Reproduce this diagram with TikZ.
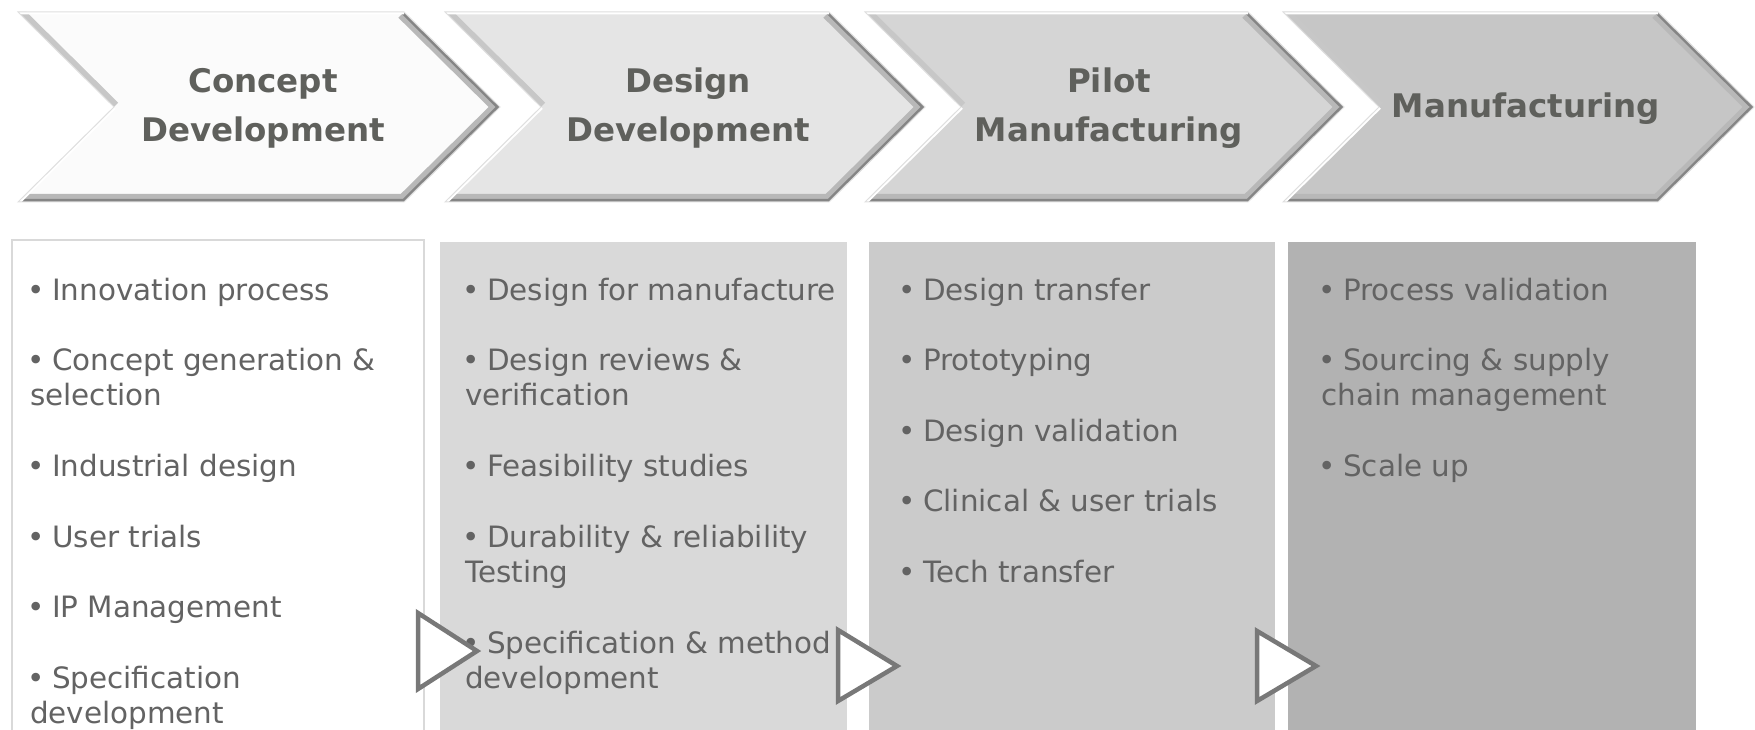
\documentclass[tikz,border=0pt]{standalone}
\usepackage{fontspec}
\setmainfont{DejaVu Sans}
\definecolor{headtext}{HTML}{5F605C}
\definecolor{bodytext}{HTML}{636363}
\definecolor{chevA}{HTML}{FBFBFB}
\definecolor{chevB}{HTML}{E5E5E5}
\definecolor{chevC}{HTML}{D5D5D5}
\definecolor{chevD}{HTML}{C6C6C6}
\definecolor{colA}{HTML}{FFFFFF}
\definecolor{colB}{HTML}{D9D9D9}
\definecolor{colC}{HTML}{CBCBCB}
\definecolor{colD}{HTML}{B2B2B2}
\newcommand\itm{\makebox[22pt][l]{\hspace{-3pt}•}}
\begin{document}
\begin{tikzpicture}[x=1pt,y=-1pt,
    chev/.style={draw=gray!25,line width=1pt,line join=miter},
    band/.style={black!28,line width=16pt,line join=miter},
    edge/.style={black!48,line width=6pt,line join=miter},
    shade/.style={black!22,line width=12pt},
    light/.style={white,line width=5pt},
    head/.style={inner sep=0pt,anchor=base,text=headtext,
      font=\fontsize{32.5}{49}\selectfont\bfseries},
    list/.style={inner sep=0pt,anchor=base west,text=bodytext,
      font=\fontsize{29.4}{35.3}\selectfont},
    tri/.style={draw=black!53,fill=white,line width=4.5pt,line join=miter}]
  \useasboundingbox (0,0) rectangle (1755,730);

  % phase chevrons
  \fill[chevA] (18,12) -- (404,12) -- (500,107) -- (404,202) -- (18,202) -- (114,107) -- cycle;
  \begin{scope}
    \clip (18,12) -- (404,12) -- (500,107) -- (404,202) -- (18,202) -- (114,107) -- cycle;
    \draw[band] (404,12) -- (500,107) -- (404,202) -- (18,202);
    \draw[edge] (404,12) -- (500,107) -- (404,202) -- (18,202);
    \draw[shade] (18,12) -- (114,107);
    \draw[light] (18,202) -- (114,107) (18,12) -- (404,12);
  \end{scope}
  \draw[chev] (18,12) -- (404,12) -- (500,107) -- (404,202) -- (18,202) -- (114,107) -- cycle;

  \fill[chevB] (445,12) -- (829,12) -- (925,107) -- (829,202) -- (445,202) -- (541,107) -- cycle;
  \begin{scope}
    \clip (445,12) -- (829,12) -- (925,107) -- (829,202) -- (445,202) -- (541,107) -- cycle;
    \draw[band] (829,12) -- (925,107) -- (829,202) -- (445,202);
    \draw[edge] (829,12) -- (925,107) -- (829,202) -- (445,202);
    \draw[shade] (445,12) -- (541,107);
    \draw[light] (445,202) -- (541,107) (445,12) -- (829,12);
  \end{scope}
  \draw[chev] (445,12) -- (829,12) -- (925,107) -- (829,202) -- (445,202) -- (541,107) -- cycle;

  \fill[chevC] (865,12) -- (1248,12) -- (1344,107) -- (1248,202) -- (865,202) -- (961,107) -- cycle;
  \begin{scope}
    \clip (865,12) -- (1248,12) -- (1344,107) -- (1248,202) -- (865,202) -- (961,107) -- cycle;
    \draw[band] (1248,12) -- (1344,107) -- (1248,202) -- (865,202);
    \draw[edge] (1248,12) -- (1344,107) -- (1248,202) -- (865,202);
    \draw[shade] (865,12) -- (961,107);
    \draw[light] (865,202) -- (961,107) (865,12) -- (1248,12);
  \end{scope}
  \draw[chev] (865,12) -- (1248,12) -- (1344,107) -- (1248,202) -- (865,202) -- (961,107) -- cycle;

  \fill[chevD] (1283,12) -- (1658,12) -- (1754,107) -- (1658,202) -- (1283,202) -- (1379,107) -- cycle;
  \begin{scope}
    \clip (1283,12) -- (1658,12) -- (1754,107) -- (1658,202) -- (1283,202) -- (1379,107) -- cycle;
    \draw[band] (1658,12) -- (1754,107) -- (1658,202) -- (1283,202);
    \draw[edge] (1658,12) -- (1754,107) -- (1658,202) -- (1283,202);
    \draw[shade] (1283,12) -- (1379,107);
    \draw[light] (1283,202) -- (1379,107) (1283,12) -- (1658,12);
  \end{scope}
  \draw[chev] (1283,12) -- (1658,12) -- (1754,107) -- (1658,202) -- (1283,202) -- (1379,107) -- cycle;

  \node[head] (phase1) at (263,93) {\parbox[t]{300pt}{\centering Concept\\Development}};
  \node[head] (phase2) at (688,93) {\parbox[t]{300pt}{\centering Design\\Development}};
  \node[head] (phase3) at (1109,93) {\parbox[t]{300pt}{\centering Pilot\\Manufacturing}};
  \node[head] (phase4) at (1526,118) {Manufacturing};

  % activity columns
  \fill[colA,draw=colB,line width=2pt] (12,240) rectangle (424,740);
  \fill[colB] (440,242) rectangle (847,740);
  \fill[colC] (869,242) rectangle (1275,740);
  \fill[colD] (1288,242) rectangle (1696,740);

  \node[list] (list1) at (30,300) {\parbox[t]{390pt}{\raggedright
    \itm Innovation process\\[35.3pt]
    \itm Concept generation \&\\selection\\[35.3pt]
    \itm Industrial design\\[35.3pt]
    \itm User trials\\[35.3pt]
    \itm IP Management\\[35.3pt]
    \itm Specification\\development}};
  \node[list] (list2) at (465,300) {\parbox[t]{390pt}{\raggedright
    \itm Design for manufacture\\[35.3pt]
    \itm Design reviews \&\\verification\\[35.3pt]
    \itm Feasibility studies\\[35.3pt]
    \itm Durability \& reliability\\Testing\\[35.3pt]
    \itm Specification \& method\\development}};
  \node[list] (list3) at (901,300) {\parbox[t]{390pt}{\raggedright
    \itm Design transfer\\[35.3pt]
    \itm Prototyping\\[35.3pt]
    \itm Design validation\\[35.3pt]
    \itm Clinical \& user trials\\[35.3pt]
    \itm Tech transfer}};
  \node[list] (list4) at (1321,300) {\parbox[t]{390pt}{\raggedright
    \itm Process validation\\[35.3pt]
    \itm Sourcing \& supply\\chain management\\[35.3pt]
    \itm Scale up}};

  % hand-over arrows
  \draw[tri] (418,613) -- (477,651) -- (418,689) -- cycle;
  \draw[tri] (838,630) -- (897,666) -- (838,701) -- cycle;
  \draw[tri] (1257,631) -- (1316,666) -- (1257,701) -- cycle;
\end{tikzpicture}
\end{document}
